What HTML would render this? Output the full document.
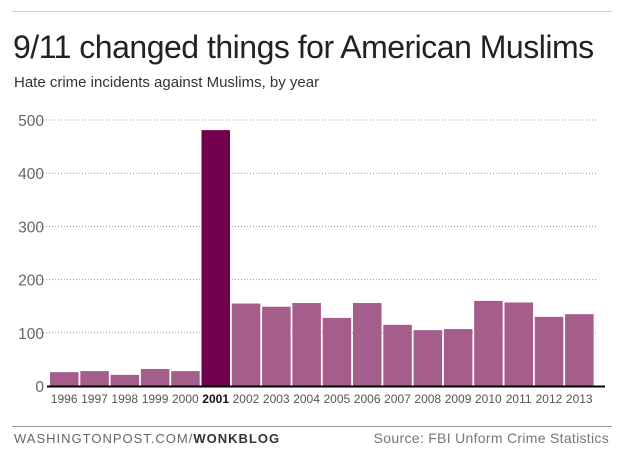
<!DOCTYPE html>
<html><head><meta charset="utf-8"><style>
body{margin:0;background:#fff;font-family:"Liberation Sans",sans-serif;}
#wrap{position:relative;width:625px;height:453px;overflow:hidden;}
</style></head><body>
<div id="wrap">
<div style="position:absolute;left:12px;top:11px;width:600px;height:1px;background:#ccc"></div>
<div style="position:absolute;left:13px;top:29px;font-size:32px;color:#222;letter-spacing:-0.5px">9/11 changed things for American Muslims</div>
<div style="position:absolute;left:14px;top:74px;font-size:15px;color:#333">Hate crime incidents against Muslims, by year</div>
<svg id="chart" width="625" height="453" style="position:absolute;left:0;top:0"></svg>
<div style="position:absolute;left:12px;top:426px;width:600px;height:1px;background:#999"></div>
<div style="position:absolute;left:14px;top:431px;font-size:13px;color:#666;letter-spacing:1px">WASHINGTONPOST.COM/<b style="color:#333">WONKBLOG</b></div>
<div style="position:absolute;right:16px;top:430px;font-size:14px;color:#777;letter-spacing:0.3px">Source: FBI Unform Crime Statistics</div>
</div>
<script>
const years=["1996","1997","1998","1999","2000","2001","2002","2003","2004","2005","2006","2007","2008","2009","2010","2011","2012","2013"];
const incidents=[26,28,21,32,28,481,155,149,156,128,156,115,105,107,160,157,130,135];
const yTicks=[0,100,200,300,400,500];
const ns="http://www.w3.org/2000/svg";
const svg=document.getElementById('chart');
const y0=386,pxPer=266/500,x0=50,step=30.3;
const y=v=>y0-v*pxPer;
const x=i=>x0+i*step;
function mk(t,a){const e=document.createElementNS(ns,t);for(const k in a)e.setAttribute(k,a[k]);svg.appendChild(e);return e;}
yTicks.forEach(v=>{
 if(v>0){const g=mk('line',{x1:28,x2:597,y1:y(v),y2:y(v),stroke:'#999','stroke-width':1,'stroke-dasharray':'1,2'});
 
 }
 const t=mk('text',{x:44,y:y(v)+6,'text-anchor':'end','font-size':15.5,fill:'#666','font-family':'Liberation Sans, sans-serif'});
 t.textContent=v;
 
 
});
years.forEach((yr,i)=>{
 const hi=yr==="2001";
 const r=mk('rect',{x:x(i),y:y(incidents[i]),width:step-1.8,height:incidents[i]*pxPer,fill:hi?'#72004d':'#a55d8b'});
 
 
 const t=mk('text',{x:x(i)+step/2-1,y:403,'text-anchor':'middle','font-size':12,fill:hi?'#111':'#555','font-weight':hi?'bold':'normal','font-family':'Liberation Sans, sans-serif'});
 t.textContent=yr;
 
 
});
const b=mk('line',{x1:47,x2:605,y1:y0+0.5,y2:y0+0.5,stroke:'#000','stroke-width':2});


</script>
</body></html>
